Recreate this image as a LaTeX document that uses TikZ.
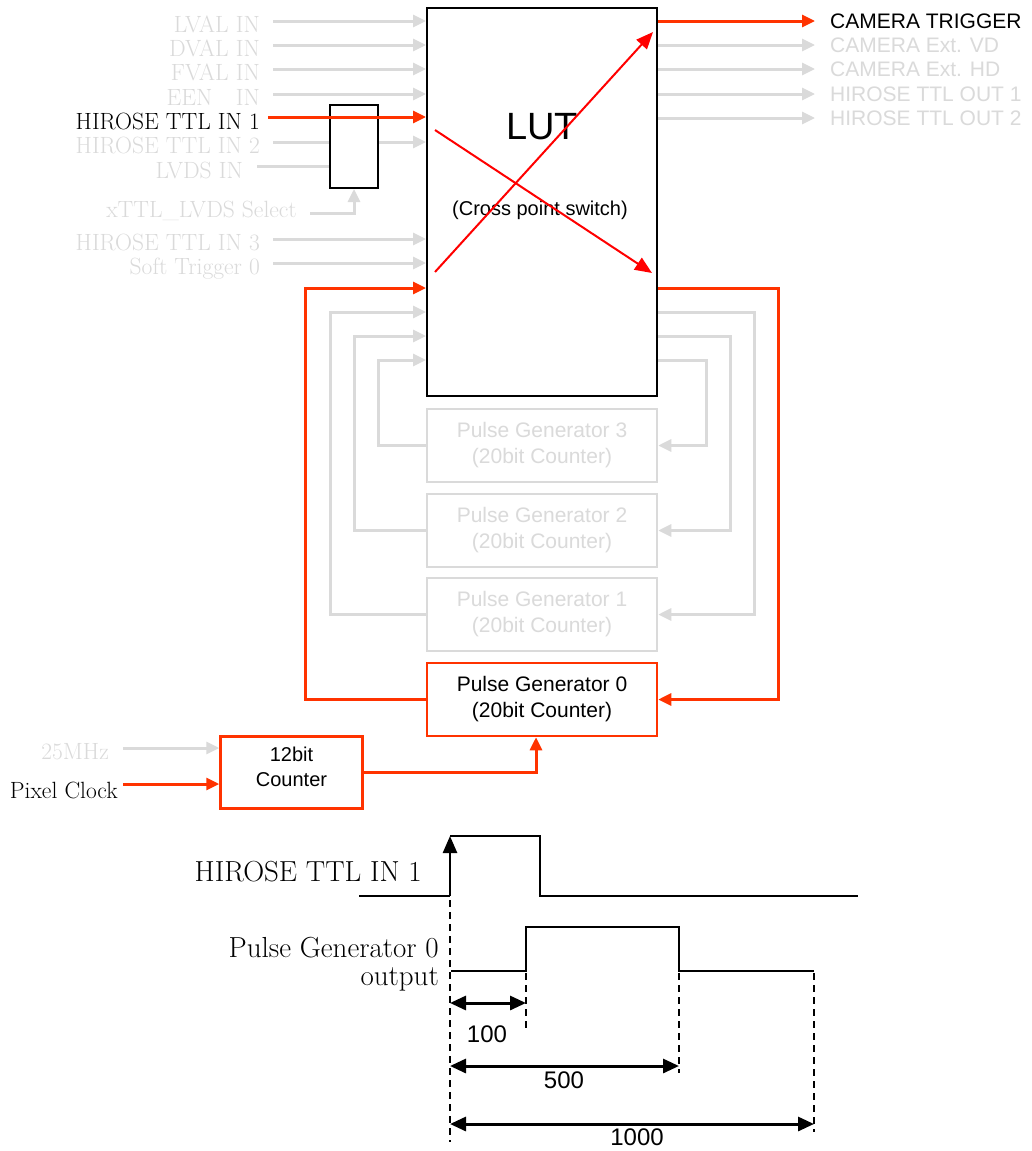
\documentclass[tikz,border=0pt]{standalone}
\usepackage{fontspec}
\setsansfont{Liberation Sans}
\usetikzlibrary{arrows.meta}

\definecolor{offgray}{RGB}{218,218,218}
\definecolor{sigred}{RGB}{255,51,0}
\definecolor{xred}{RGB}{255,0,0}

\tikzset{
  tip/.style={-{Triangle[length=13pt,width=12pt]}},
  gline/.style={draw=offgray, line width=3pt},
  gin/.style={gline, tip},
  rline/.style={draw=sigred, line width=3pt},
  rin/.style={rline, tip},
  xarr/.style={draw=xred, line width=2pt, -{Triangle[length=17pt,width=14pt]}},
  inlbl/.style={anchor=east, inner sep=0pt, text height=16pt, text depth=0pt,
    font=\fontsize{23.5}{27}\selectfont, text=offgray},
  outlbl/.style={anchor=west, inner sep=0pt, text height=15pt, text depth=0pt,
    font=\sffamily\fontsize{21}{25}\selectfont, text=offgray},
  genbox/.style={draw=offgray, line width=2.5pt, minimum width=230pt, minimum height=73pt,
    inner sep=0pt, align=center, font=\sffamily\fontsize{21}{26}\selectfont, text=offgray},
  tlbl/.style={inner sep=0pt, font=\fontsize{29}{32}\selectfont},
  wave/.style={line width=2.5pt},
  vdash/.style={line width=2pt, dash pattern=on 7pt off 5pt},
  dim/.style={line width=3pt, {Triangle[length=16pt,width=14pt]}-{Triangle[length=16pt,width=14pt]}},
  dimlbl/.style={inner sep=0pt, font=\sffamily\fontsize{24}{28}\selectfont},
}

\begin{document}
\begin{tikzpicture}[x=1pt,y=-1pt]
\useasboundingbox[fill=white] (0,0) rectangle (1032,1151);

\node[draw, line width=2pt, minimum width=230pt, minimum height=388pt, inner sep=0pt] (lut) at (542,202) {};
\node[font=\sffamily\fontsize{38}{40}\selectfont] (luttitle) at (542,127) {LUT};
\node[font=\sffamily\fontsize{20}{24}\selectfont] (lutsub) at (540,210) {(Cross point switch)};

\node[draw, line width=2pt, minimum width=48pt, minimum height=83pt, inner sep=0pt] (mux) at (354,146.5) {};

\foreach \y/\n/\t in {21/lval/LVAL IN, 45/dval/DVAL IN, 69/fval/FVAL IN, 94/een/EEN\quad IN,
    239/ttl3/HIROSE TTL IN 3, 263/soft/Soft Trigger 0} {
  \node[inlbl] (\n) at (260,\y+3) {\t};
  \draw[gin] ([xshift=13pt,yshift=3pt]\n.east) -- (lut.west |- 0,\y);
}

\node[inlbl, text=black] (ttl1) at (260,121) {HIROSE TTL IN 1};
\node[inlbl] (ttl2) at (260,145) {HIROSE TTL IN 2};
\node[inlbl] (lvds) at (243,170) {LVDS IN};
\node[inlbl] (sel) at (297,209) {xTTL\_LVDS Select};

\draw[gline] ([xshift=13pt,yshift=3pt]ttl2.east) -- (mux.west |- 0,142);
\draw[gin] (mux.east |- 0,142) -- (lut.west |- 0,142);
\draw[gline] ([xshift=14pt,yshift=4pt]lvds.east) -- (mux.west |- 0,166);
\draw[gin] ([xshift=13pt,yshift=-4pt]sel.east) -| (mux.south);
\draw[rin] ([xshift=8pt,yshift=4pt]ttl1.east) -- (lut.west |- 0,117);

\node[outlbl, text=black] (trig) at (830,21) {CAMERA TRIGGER};
\draw[rin] (lut.east |- trig) -- ([xshift=-15pt]trig.west);
\foreach \y/\n/\t in {45/extvd/CAMERA Ext. VD, 69/exthd/CAMERA Ext. HD,
    94/out1/HIROSE TTL OUT 1, 118/out2/HIROSE TTL OUT 2} {
  \node[outlbl] (\n) at (830,\y) {\t};
  \draw[gin] (lut.east |- \n) -- ([xshift=-15pt]\n.west);
}

\coordinate (xa) at (435,130);
\coordinate (xb) at (652,273);
\coordinate (xc) at (435,272);
\coordinate (xd) at (653,32);
\draw[xarr] (xa) -- (xb);
\draw[xarr] (xc) -- (xd);

\node[genbox] (pg3) at (542,445.5) {Pulse Generator 3\\(20bit Counter)};
\node[genbox] (pg2) at (542,530.5) {Pulse Generator 2\\(20bit Counter)};
\node[genbox] (pg1) at (542,614.5) {Pulse Generator 1\\(20bit Counter)};
\node[genbox, draw=sigred, text=black] (pg0) at (542,699.5) {Pulse Generator 0\\(20bit Counter)};

\draw[gin] (pg3.west) -| (378,360) -- (lut.west |- 0,360);
\draw[gin] (lut.east |- 0,360) -- (706,360) |- (pg3.east);
\draw[gin] (pg2.west) -| (354,336) -- (lut.west |- 0,336);
\draw[gin] (lut.east |- 0,336) -- (730,336) |- (pg2.east);
\draw[gin] (pg1.west) -| (330,312) -- (lut.west |- 0,312);
\draw[gin] (lut.east |- 0,312) -- (754,312) |- (pg1.east);
\draw[rin] (pg0.west) -| (305,288) -- (lut.west |- 0,288);
\draw[rin] (lut.east |- 0,288) -- (778,288) |- (pg0.east);

\node[draw=sigred, line width=2.5pt, minimum width=142pt, minimum height=72pt, inner sep=0pt] (cnt) at (291.5,772.5) {};
\node[align=center, font=\sffamily\fontsize{20}{25}\selectfont] (cnttxt) at (291.5,766.5) {12bit\\Counter};
\node[inlbl] (clk25) at (109,751) {25MHz};
\node[inlbl, text=black] (pixclk) at (118,790) {Pixel Clock};
\draw[gin] ([xshift=14pt,yshift=3pt]clk25.east) -- (cnt.west |- 0,748);
\draw[rin] ([xshift=5pt,yshift=6pt]pixclk.east) -- (cnt.west |- 0,784);
\draw[rin] (cnt.east |- 0,772) -| ([xshift=-6pt]pg0.south);

\node[tlbl, anchor=east, text height=19pt, text depth=0pt] (tin1) at (422,872) {HIROSE TTL IN 1};
\node[tlbl, anchor=base east] (tpg) at (439,957) {Pulse Generator 0};
\node[tlbl, anchor=base east] (tpgout) at (439,985) {output};

\draw[wave] (359,896) -- (450,896);
\draw[wave, -{Triangle[length=17pt,width=14pt]}] (450,896) -- (450,836);
\draw[wave] (450,836) -- (540,836) -- (540,896) -- (858,896);
\draw[wave] (451,971) -- (526,971) -- (526,927) -- (679,927) -- (679,971) -- (814,971);

\draw[vdash] (450,900) -- (450,1142);
\draw[vdash] (526,973) -- (526,1032);
\draw[vdash] (679,973) -- (679,1073);
\draw[vdash] (814,973) -- (814,1132);

\draw[dim] (450,1003) -- (526,1003);
\draw[dim] (450,1066) -- (679,1066);
\draw[dim] (450,1124) -- (814,1124);
\node[dimlbl] (d100) at (487,1034) {100};
\node[dimlbl] (d500) at (564,1080) {500};
\node[dimlbl] (d1000) at (637,1137) {1000};
\end{tikzpicture}
\end{document}
